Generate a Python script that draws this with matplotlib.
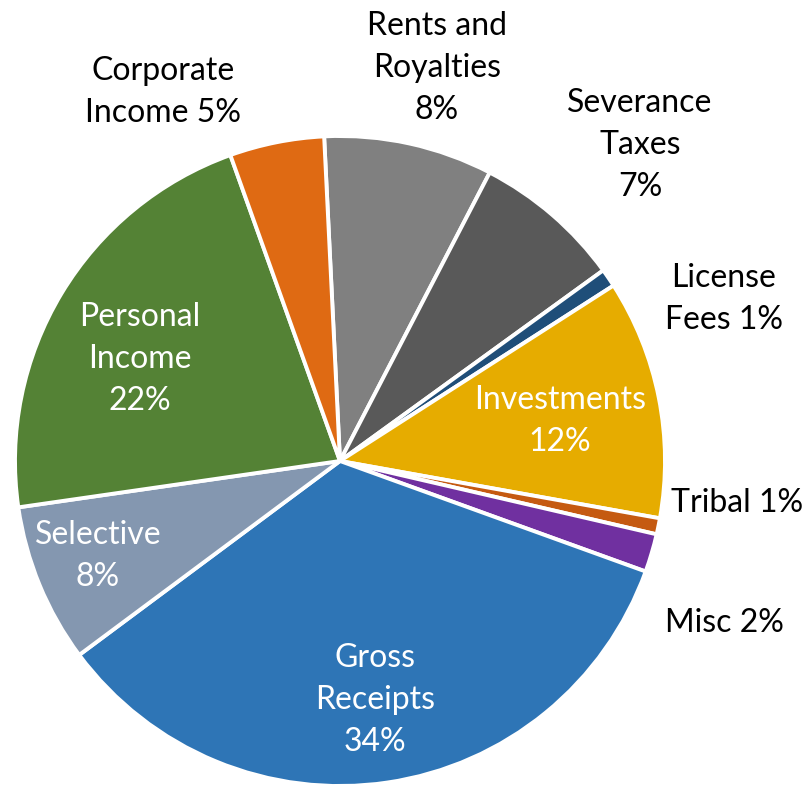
import matplotlib
matplotlib.use("Agg")
import matplotlib.pyplot as plt

categories = ["Rents and Royalties", "Severance Taxes", "License Fees", "Investments",
              "Tribal", "Misc", "Gross Receipts", "Selective", "Personal Income",
              "Corporate Income"]
values = [8.4, 7.4, 0.9, 11.9, 0.8, 1.9, 34.3, 7.9, 21.8, 4.7]
colors = ["#808080", "#595959", "#1F4E79", "#E6AC00", "#C55A11", "#7030A0",
          "#2E75B6", "#8497B0", "#548235", "#DF6A13"]
label_texts = ["Rents and\nRoyalties\n8%", "Severance\nTaxes\n7%", "License\nFees 1%",
               "Investments\n12%", "Tribal 1%", "Misc 2%", "Gross\nReceipts\n34%",
               "Selective\n8%", "Personal\nIncome\n22%", "Corporate\nIncome 5%"]
label_pos = [(437, 718), (640, 641), (724, 487), (560, 365), (737, 283), (724, 163),
             (375, 86), (98, 230), (140, 427), (163, 694)]
label_color = ["black", "black", "black", "white", "black", "black", "white",
               "white", "white", "black"]

W, H = 805, 786
fig = plt.figure(figsize=(W / 100, H / 100), dpi=100)
ax = fig.add_axes([0, 0, 1, 1])
ax.set_xlim(0, W)
ax.set_ylim(0, H)
ax.set_aspect("equal")
ax.axis("off")

ax.pie(values, colors=colors, startangle=92.8, counterclock=False,
       center=(340, 325), radius=325, frame=True,
       wedgeprops=dict(edgecolor="white", linewidth=2.8))
ax.set_xlim(0, W)
ax.set_ylim(0, H)
ax.axis("off")

for t, (x, y), c in zip(label_texts, label_pos, label_color):
    ax.text(x, y, t, ha="center", va="center", fontsize=23, color=c,
            family="Lato", linespacing=1.5, multialignment="center")

fig.savefig("out.png", dpi=100)
